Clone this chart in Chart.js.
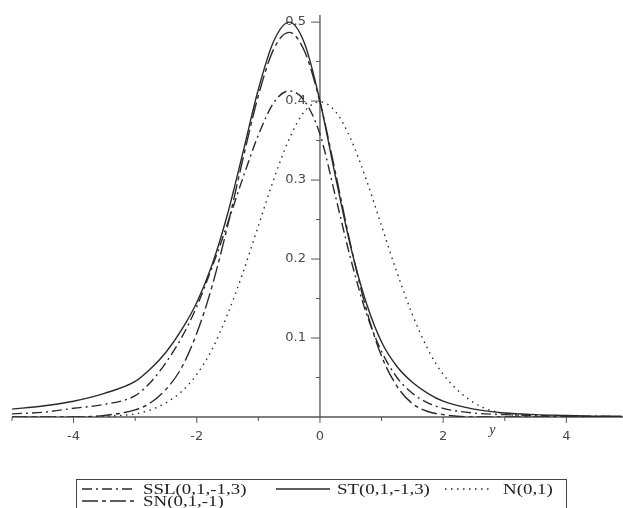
<!DOCTYPE html>
<html>
<head>
<meta charset="utf-8">
<script src="https://cdn.jsdelivr.net/npm/chart.js@4"></script>
<style>
  html, body { margin: 0; padding: 0; background: #fff; }
  #wrap { width: 623px; height: 508px; }
</style>
</head>
<body>
<div id="wrap"><canvas id="myChart" width="623" height="508"></canvas></div>
<script>
// values
var xs = [-5, -4.5, -4, -3.5, -3, -2.75, -2.5, -2.25, -2, -1.75, -1.5, -1.25, -1, -0.75, -0.5, -0.25,
          0, 0.25, 0.5, 0.75, 1, 1.25, 1.5, 1.75, 2, 2.5, 3, 3.5, 4, 4.5, 4.9];
var ssl = [0.004, 0.006, 0.011, 0.016, 0.027, 0.044, 0.069, 0.100, 0.140, 0.190, 0.245, 0.303, 0.357, 0.398, 0.413, 0.400,
           0.358, 0.280, 0.200, 0.132, 0.083, 0.050, 0.030, 0.018, 0.011, 0.005, 0.003, 0.002, 0.001, 0.001, 0.000];
var st = [0.010, 0.014, 0.020, 0.030, 0.045, 0.061, 0.082, 0.110, 0.145, 0.193, 0.257, 0.335, 0.415, 0.476, 0.500, 0.473,
          0.400, 0.305, 0.215, 0.145, 0.095, 0.064, 0.044, 0.030, 0.020, 0.010, 0.005, 0.003, 0.002, 0.001, 0.001];
var nrm = [0, 0, 0.000, 0.001, 0.004, 0.009, 0.018, 0.032, 0.054, 0.086, 0.130, 0.183, 0.242, 0.301, 0.352, 0.387,
           0.399, 0.387, 0.352, 0.301, 0.242, 0.183, 0.130, 0.086, 0.054, 0.018, 0.004, 0.001, 0.000, 0, 0];
var sn = [0, 0, 0.000, 0.002, 0.009, 0.018, 0.035, 0.062, 0.106, 0.166, 0.242, 0.327, 0.407, 0.466, 0.487, 0.463,
          0.399, 0.310, 0.217, 0.137, 0.077, 0.039, 0.017, 0.007, 0.003, 0.000, 0, 0, 0, 0, 0];

var xMajor = [-4, -2, 0, 2, 4];
var xMinor = [-5, -3, -1, 1, 3];
var yMajor = [0.1, 0.2, 0.3, 0.4, 0.5];
var yLabels = ['0.1', '0.2', '0.3', '0.4', '0.5'];
var yMinor = [0.05, 0.15, 0.25, 0.35, 0.45];

var names = ['SSL(0,1,-1,3)', 'ST(0,1,-1,3)', 'N(0,1)', 'SN(0,1,-1)'];
var dashes = [[10, 4, 2, 4], [], [1.5, 4.5], [16, 4, 4, 4]];

function pts(arr) {
    return xs.map(function(x, i) { return {x: x, y: arr[i]}; });
}

var ink = '#2a2a2a';

//axes through the origin, drawn with the chart's scales
var axesPlugin = {
    id: 'maxAxes',
    beforeDatasetsDraw: function(chart) {
        var c = chart.ctx, sx = chart.scales.x, sy = chart.scales.y;
        var x0 = sx.getPixelForValue(0), y0 = sy.getPixelForValue(0);
        c.save();
        c.strokeStyle = '#555';
        c.lineWidth = 1.3;
        c.beginPath();
        c.moveTo(sx.left, y0); c.lineTo(sx.right, y0);
        c.moveTo(x0, y0); c.lineTo(x0, sy.top);
        c.stroke();
        c.lineWidth = 1;
        c.beginPath();
        xMajor.forEach(function(v) { var p = sx.getPixelForValue(v); c.moveTo(p, y0); c.lineTo(p, y0 + 6); });
        xMinor.forEach(function(v) { var p = sx.getPixelForValue(v); c.moveTo(p, y0); c.lineTo(p, y0 + 4); });
        yMajor.forEach(function(v) { var p = sy.getPixelForValue(v); c.moveTo(x0, p); c.lineTo(x0 - 9, p); });
        yMinor.forEach(function(v) { var p = sy.getPixelForValue(v); c.moveTo(x0, p); c.lineTo(x0 - 4, p); });
        c.stroke();
        c.fillStyle = '#4a4a4a';
        c.font = '13px "DejaVu Sans"';
        c.textAlign = 'center';
        c.textBaseline = 'middle';
        xMajor.forEach(function(v) {
            c.fillText(v < 0 ? '-' + Math.abs(v) : String(v), sx.getPixelForValue(v), y0 + 20);
        });
        c.textAlign = 'right';
        yMajor.forEach(function(v, i) { c.fillText(yLabels[i], x0 - 14, sy.getPixelForValue(v)); });
        c.fillStyle = '#333';
        c.font = 'italic 14px "Liberation Serif"';
        c.textAlign = 'center';
        c.fillText('y', sx.getPixelForValue(2.8), y0 + 13);
        c.restore();
    },
    afterDraw: function(chart) {
        var c = chart.ctx;
        c.save();
        c.strokeStyle = '#444';
        c.lineWidth = 1;
        c.strokeRect(76.5, 479.5, 490, 40);
        c.font = '14px "Liberation Serif"';
        c.fillStyle = '#222';
        c.textBaseline = 'middle';
        var items = [[82, 489, 0, 50], [276, 489, 1, 54], [445, 489, 2, 48], [82, 501, 3, 56]];
        var textX = [143, 337, 503, 143];
        items.forEach(function(it, i) {
            c.strokeStyle = ink;
            c.lineWidth = 1.4;
            c.setLineDash(dashes[it[2]]);
            c.beginPath();
            c.moveTo(it[0], it[1]); c.lineTo(it[0] + it[3], it[1]);
            c.stroke();
            c.setLineDash([]);
            //reference text is stretched sideways
            c.save();
            c.translate(textX[i], it[1] + 1);
            c.scale(1.35, 1);
            c.fillText(names[it[2]], 0, 0);
            c.restore();
        });
        c.restore();
    }
};

var series = [ssl, st, nrm, sn];
var ctx = document.getElementById('myChart');
var myChart = new Chart(ctx, {
    type: 'line',
    data: {
        datasets: series.map(function(s, i) {
            return {
                label: names[i],
                data: pts(s),
                borderColor: ink,
                borderWidth: 1.4,
                borderDash: dashes[i],
                pointRadius: 0,
                fill: false,
                cubicInterpolationMode: 'monotone'
            };
        })
    },
    options: {
        responsive: false,
        animation: false,
        layout: { padding: { left: 12, right: 0, top: 15, bottom: 91 } },
        plugins: { legend: { display: false }, tooltip: { enabled: false } },
        scales: {
            x: { type: 'linear', min: -5, max: 4.92, display: false },
            y: { type: 'linear', min: 0, max: 0.509, display: false }
        }
    },
    plugins: [axesPlugin]
});
</script>
</body>
</html>
